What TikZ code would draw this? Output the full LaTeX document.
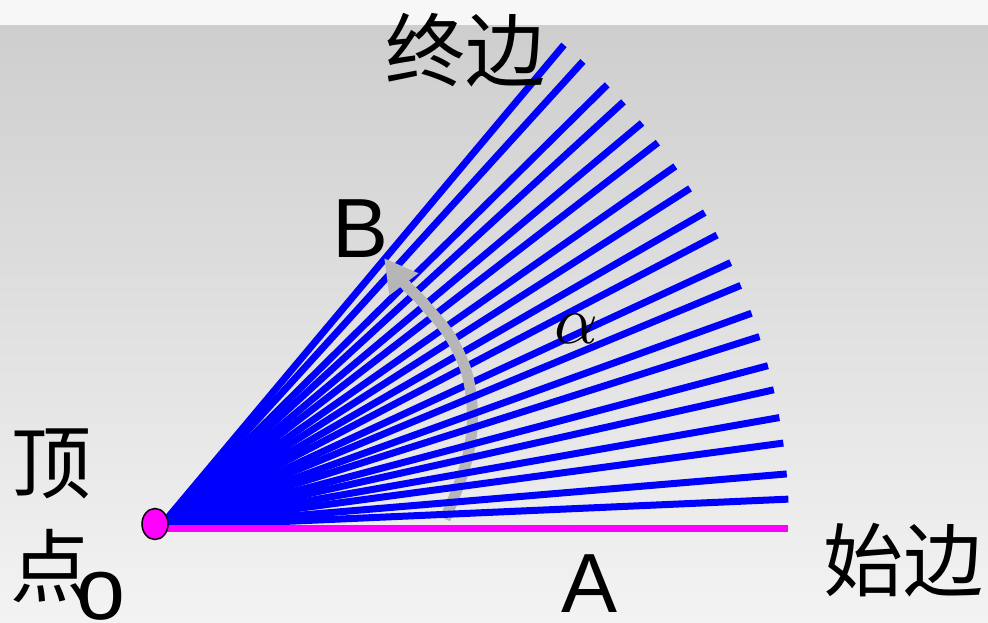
\documentclass[tikz,border=0pt]{standalone}
\usepackage{fontspec}
\usepackage{graphicx}
\newfontfamily\cjk{Noto Sans CJK SC}
\newfontfamily\arial{Liberation Sans}
\usetikzlibrary{arrows.meta,shapes.geometric}
\definecolor{bgtop}{RGB}{206,206,206}
\definecolor{bgbot}{RGB}{243,243,243}
\definecolor{stripc}{RGB}{247,247,247}
\definecolor{arcgray}{RGB}{182,182,182}
\definecolor{rayblue}{RGB}{0,0,255}
\definecolor{mag}{RGB}{255,0,255}
\begin{document}
\begin{tikzpicture}[x=1pt,y=-1pt,
  ray/.style={draw=rayblue,line width=7pt},
  cjklbl/.style={inner sep=0pt,font=\cjk\fontsize{80}{90}\selectfont},
  latlbl/.style={inner sep=0pt,anchor=base,font=\arial\fontsize{84}{96}\selectfont},
  arcarrow/.style={draw=arcgray,line width=11pt,-{Triangle[width=34pt,length=33pt]}}
]
\useasboundingbox (0,0) rectangle (988,622);
\shade[top color=bgtop,bottom color=bgbot] (0,25) rectangle (988,622);
\fill[stripc] (0,0) rectangle (988,25);
\coordinate (O) at (160,527);
% rays under the arrow
\foreach \a [count=\i] in {50.04,47.75,44.68,42.53,39.97,37.67,34.99,32.57,29.99,27.66,24.86}{
  \coordinate (e\i) at ({160+629*cos(\a)},{527-629*sin(\a)});
  \draw[ray] (O) -- (e\i);
}
\draw[arcarrow] plot[smooth,tension=0.7] coordinates {(445,519) (468,455) (471,395) (455,345) (425,305) (404,283) (384,258)};
% rays over the arrow
\foreach \a [count=\i from 12] in {22.59,19.87,17.62,14.86,12.60,10.02,7.67,4.84,2.54}{
  \coordinate (e\i) at ({160+629*cos(\a)},{527-629*sin(\a)});
  \draw[ray] (O) -- (e\i);
}
\coordinate (Aend) at (788,528);
\draw[draw=mag,line width=7pt] (162,528) -- (Aend);
\node[draw=black,line width=1.5pt,fill=mag,ellipse,minimum width=26pt,minimum height=31pt,inner sep=0pt] (dot) at (155,524) {};
\node[cjklbl] (zhong) at (465,50) {终边};
\node[cjklbl] (shi) at (903,560) {始边};
\node[cjklbl] (ding) at (52,464) {顶};
\node[cjklbl] (dian) at (50,566) {点};
\node[latlbl,font=\arial\fontsize{88}{96}\selectfont] (o) at (101,619) {o};
\node[latlbl] (A) at (590,612) {A};
\node[latlbl] (B) at (361,257) {B};
\node[inner sep=0pt] (alpha) at (576,329) {\scalebox{6.8}{$\alpha$}};
\end{tikzpicture}
\end{document}
